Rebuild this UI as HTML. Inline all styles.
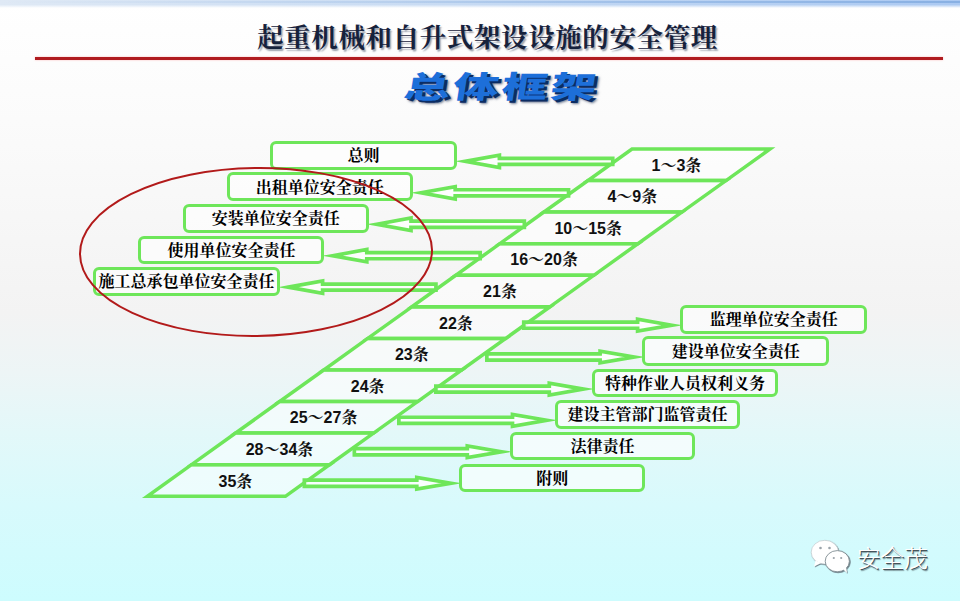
<!DOCTYPE html>
<html lang="zh-CN"><head><meta charset="utf-8"><title>总体框架</title>
<style>
html,body{margin:0;padding:0}
body{width:960px;height:601px;overflow:hidden;position:relative;
background:linear-gradient(to bottom,#ffffff 0%,#fbfbfb 20%,#f3f3f3 52%,#edf5f6 62%,#e3f8f9 72%,#d8fafc 84%,#cdfcfe 100%);
font-family:"Liberation Sans","Noto Sans CJK SC",sans-serif}
.topbar{position:absolute;left:0;top:0;width:960px;height:8px;background:linear-gradient(to bottom,rgba(255,255,255,0) 0,rgba(255,255,255,0) 58%,#fff 100%),linear-gradient(to right,#dfe9f5,#c6daf3 50%,#abc9f2 100%);}
.topbar2{position:absolute;left:0;top:1px;width:960px;height:1.5px;background:linear-gradient(to right,rgba(130,170,220,0) 0,rgba(130,170,220,.25) 40%,rgba(125,168,222,.75) 100%);}
.title{position:absolute;left:0;top:15.5px;width:960px;text-align:center;font-family:"Liberation Serif","Noto Serif CJK SC",serif;font-weight:700;font-size:26.5px;line-height:44px;color:#16223c;text-shadow:1.5px 1.5px 1.5px rgba(90,100,120,.6);letter-spacing:0.6px;white-space:nowrap;text-indent:15px}

.rule{position:absolute;left:35px;top:56.6px;width:908px;height:3px;background:#b01c20;box-shadow:0 0 2px rgba(255,150,150,.7)}
.sub{position:absolute;left:402px;top:63px;width:200px;height:48px;text-align:center;white-space:nowrap;font-family:"Liberation Sans","Noto Sans CJK SC",sans-serif;font-weight:900;font-size:30.5px;letter-spacing:2px;line-height:48px;color:#1d6fd9;text-shadow:2px 2px 0 #0b2c63,3px 3px 2px rgba(10,30,70,.6);transform:scaleX(1.5) skewX(-6deg);transform-origin:50% 50%}
svg{position:absolute;left:0;top:0}
.bx{position:absolute;box-sizing:border-box;border:3.6px solid #6ee65a;border-radius:6px;background:rgba(255,255,255,.6);display:flex;align-items:center;justify-content:center;white-space:nowrap;font-family:"Liberation Serif","Noto Serif CJK SC",serif;font-weight:700;font-size:16px;color:#000;line-height:20px}
.bx span{display:block;position:relative;top:1px}
.lb{position:absolute;width:120px;height:24px;line-height:24px;text-align:center;font-family:"Liberation Sans","Noto Serif CJK SC",sans-serif;font-weight:700;font-size:16px;color:#111;white-space:nowrap}
.wm{position:absolute;left:857px;top:541.7px;font-family:"Liberation Sans","Noto Sans CJK SC",sans-serif;font-weight:300;font-size:23.6px;line-height:34px;color:#fff;text-shadow:1px 1px 0 rgba(62,74,80,.95),1.6px 1.6px 1px rgba(62,74,80,.55),-0.5px -0.5px 0 rgba(255,255,255,.9);white-space:nowrap}
</style></head><body>
<div class="topbar"></div><div class="topbar2"></div>
<div class="title">起重机械和自升式架设设施的安全管理</div>
<div class="rule"></div>
<div class="sub">总体框架</div>
<svg width="960" height="601" viewBox="0 0 960 601">
<polygon points="632.0,149.0 770.0,149.0 726.0,180.6 588.0,180.6" fill="rgba(255,255,255,0.5)" stroke="#6ee65a" stroke-width="3.5" stroke-linejoin="miter" stroke-miterlimit="10"/>
<polygon points="588.0,180.6 726.0,180.6 681.9,212.1 543.9,212.1" fill="rgba(255,255,255,0.5)" stroke="#6ee65a" stroke-width="3.5" stroke-linejoin="miter" stroke-miterlimit="10"/>
<polygon points="543.9,212.1 681.9,212.1 637.9,243.7 499.8,243.7" fill="rgba(255,255,255,0.5)" stroke="#6ee65a" stroke-width="3.5" stroke-linejoin="miter" stroke-miterlimit="10"/>
<polygon points="499.9,243.7 637.9,243.7 593.8,275.3 455.8,275.3" fill="rgba(255,255,255,0.5)" stroke="#6ee65a" stroke-width="3.5" stroke-linejoin="miter" stroke-miterlimit="10"/>
<polygon points="455.8,275.3 593.8,275.3 549.8,306.8 411.8,306.8" fill="rgba(255,255,255,0.5)" stroke="#6ee65a" stroke-width="3.5" stroke-linejoin="miter" stroke-miterlimit="10"/>
<polygon points="411.8,306.9 549.8,306.9 505.7,338.4 367.7,338.4" fill="rgba(255,255,255,0.5)" stroke="#6ee65a" stroke-width="3.5" stroke-linejoin="miter" stroke-miterlimit="10"/>
<polygon points="367.7,338.4 505.7,338.4 461.7,370.0 323.7,370.0" fill="rgba(255,255,255,0.5)" stroke="#6ee65a" stroke-width="3.5" stroke-linejoin="miter" stroke-miterlimit="10"/>
<polygon points="323.7,370.0 461.7,370.0 417.6,401.6 279.6,401.6" fill="rgba(255,255,255,0.5)" stroke="#6ee65a" stroke-width="3.5" stroke-linejoin="miter" stroke-miterlimit="10"/>
<polygon points="279.6,401.6 417.6,401.6 373.6,433.1 235.6,433.1" fill="rgba(255,255,255,0.5)" stroke="#6ee65a" stroke-width="3.5" stroke-linejoin="miter" stroke-miterlimit="10"/>
<polygon points="235.6,433.1 373.6,433.1 329.5,464.7 191.5,464.7" fill="rgba(255,255,255,0.5)" stroke="#6ee65a" stroke-width="3.5" stroke-linejoin="miter" stroke-miterlimit="10"/>
<polygon points="191.5,464.7 329.5,464.7 285.4,496.3 147.4,496.3" fill="rgba(255,255,255,0.5)" stroke="#6ee65a" stroke-width="3.5" stroke-linejoin="miter" stroke-miterlimit="10"/>
<path d="M465.10,161.35 L499.40,155.15 L499.40,158.30 L612.75,158.30 L612.75,164.40 L499.40,164.40 L499.40,167.55 Z" fill="rgba(255,255,255,0.8)" stroke="#6ee65a" stroke-width="3.7" stroke-linejoin="miter" stroke-miterlimit="12"/>
<path d="M420.90,192.80 L455.20,186.60 L455.20,189.75 L568.55,189.75 L568.55,195.85 L455.20,195.85 L455.20,199.00 Z" fill="rgba(255,255,255,0.8)" stroke="#6ee65a" stroke-width="3.7" stroke-linejoin="miter" stroke-miterlimit="12"/>
<path d="M376.70,224.25 L411.00,218.05 L411.00,221.20 L524.35,221.20 L524.35,227.30 L411.00,227.30 L411.00,230.45 Z" fill="rgba(255,255,255,0.8)" stroke="#6ee65a" stroke-width="3.7" stroke-linejoin="miter" stroke-miterlimit="12"/>
<path d="M332.50,255.70 L366.80,249.50 L366.80,252.65 L480.15,252.65 L480.15,258.75 L366.80,258.75 L366.80,261.90 Z" fill="rgba(255,255,255,0.8)" stroke="#6ee65a" stroke-width="3.7" stroke-linejoin="miter" stroke-miterlimit="12"/>
<path d="M288.30,287.15 L322.60,280.95 L322.60,284.10 L435.95,284.10 L435.95,290.20 L322.60,290.20 L322.60,293.35 Z" fill="rgba(255,255,255,0.8)" stroke="#6ee65a" stroke-width="3.7" stroke-linejoin="miter" stroke-miterlimit="12"/>
<path d="M671.89,325.20 L637.59,319.30 L637.59,322.15 L523.75,322.15 L523.75,328.25 L637.59,328.25 L637.59,331.10 Z" fill="rgba(255,255,255,0.8)" stroke="#6ee65a" stroke-width="3.7" stroke-linejoin="miter" stroke-miterlimit="12"/>
<path d="M634.39,357.00 L600.09,351.10 L600.09,353.95 L486.85,353.95 L486.85,360.05 L600.09,360.05 L600.09,362.90 Z" fill="rgba(255,255,255,0.8)" stroke="#6ee65a" stroke-width="3.7" stroke-linejoin="miter" stroke-miterlimit="12"/>
<path d="M583.59,389.10 L549.29,383.20 L549.29,386.05 L435.85,386.05 L435.85,392.15 L549.29,392.15 L549.29,395.00 Z" fill="rgba(255,255,255,0.8)" stroke="#6ee65a" stroke-width="3.7" stroke-linejoin="miter" stroke-miterlimit="12"/>
<path d="M546.79,420.30 L512.49,414.40 L512.49,417.25 L398.85,417.25 L398.85,423.35 L512.49,423.35 L512.49,426.20 Z" fill="rgba(255,255,255,0.8)" stroke="#6ee65a" stroke-width="3.7" stroke-linejoin="miter" stroke-miterlimit="12"/>
<path d="M501.59,451.75 L467.29,445.85 L467.29,448.70 L354.35,448.70 L354.35,454.80 L467.29,454.80 L467.29,457.65 Z" fill="rgba(255,255,255,0.8)" stroke="#6ee65a" stroke-width="3.7" stroke-linejoin="miter" stroke-miterlimit="12"/>
<path d="M451.09,483.25 L416.79,477.35 L416.79,480.20 L304.35,480.20 L304.35,486.30 L416.79,486.30 L416.79,489.15 Z" fill="rgba(255,255,255,0.8)" stroke="#6ee65a" stroke-width="3.7" stroke-linejoin="miter" stroke-miterlimit="12"/>
</svg>
<div class="bx" style="left:270px;top:140.8px;width:187px;height:28.899999999999977px"><span>总则</span></div>
<div class="bx" style="left:226.5px;top:172.3px;width:186.3px;height:28.899999999999977px"><span>出租单位安全责任</span></div>
<div class="bx" style="left:182.6px;top:203.9px;width:186.20000000000002px;height:28.799999999999983px"><span>安装单位安全责任</span></div>
<div class="bx" style="left:138.4px;top:235.5px;width:186.1px;height:28.69999999999999px"><span>使用单位安全责任</span></div>
<div class="bx" style="left:92.5px;top:267px;width:187.8px;height:28.69999999999999px"><span>施工总承包单位安全责任</span></div>
<div class="bx" style="left:680.4px;top:304.8px;width:186.89999999999998px;height:28.80000000000001px"><span>监理单位安全责任</span></div>
<div class="bx" style="left:642.2px;top:336.4px;width:187.0px;height:29.200000000000045px"><span>建设单位安全责任</span></div>
<div class="bx" style="left:592px;top:368.5px;width:185.79999999999995px;height:28.5px"><span>特种作业人员权利义务</span></div>
<div class="bx" style="left:555px;top:400.2px;width:185.20000000000005px;height:28.400000000000034px"><span>建设主管部门监管责任</span></div>
<div class="bx" style="left:510px;top:432px;width:185.20000000000005px;height:28px"><span>法律责任</span></div>
<div class="bx" style="left:459.2px;top:463.5px;width:186.00000000000006px;height:28.30000000000001px"><span>附则</span></div>
<div class="lb" style="left:616.4px;top:153.6px">1～3条</div>
<div class="lb" style="left:572.3px;top:185.2px">4～9条</div>
<div class="lb" style="left:528.2px;top:216.8px">10～15条</div>
<div class="lb" style="left:484.1px;top:248.4px">16～20条</div>
<div class="lb" style="left:440.0px;top:280.0px">21条</div>
<div class="lb" style="left:395.9px;top:311.6px">22条</div>
<div class="lb" style="left:351.8px;top:343.2px">23条</div>
<div class="lb" style="left:307.7px;top:374.8px">24条</div>
<div class="lb" style="left:263.6px;top:406.4px">25～27条</div>
<div class="lb" style="left:219.5px;top:438.0px">28～34条</div>
<div class="lb" style="left:175.4px;top:469.6px">35条</div>
<svg width="960" height="601" viewBox="0 0 960 601" style="pointer-events:none">
<ellipse cx="256" cy="252" rx="176" ry="84" fill="none" stroke="#b21a1a" stroke-width="2" transform="rotate(-0.7 256 252)"/>
<g filter="url(#ws)">
<defs><filter id="ws" x="-10%" y="-10%" width="130%" height="130%"><feDropShadow dx="0.8" dy="0.8" stdDeviation="0.6" flood-color="#46505a" flood-opacity=".8"/></filter></defs>
<ellipse cx="824.8" cy="552.2" rx="13.6" ry="11.9" fill="#fff" stroke="#aab7bc" stroke-width=".5"/>
<path d="M815.5,560.5 L814,566.5 L821,563 Z" fill="#fff"/>
<ellipse cx="837.3" cy="561.2" rx="12.1" ry="10.6" fill="#fff" stroke="#6f7d84" stroke-width=".8"/>
<path d="M843,569 L847,573 L846,567.5 Z" fill="#fff"/>
<circle cx="820.5" cy="548" r="1.3" fill="#9aa3aa"/><circle cx="829.5" cy="548" r="1.3" fill="#9aa3aa"/>
<circle cx="833.8" cy="558" r="1.1" fill="#9aa3aa"/><circle cx="841.2" cy="558" r="1.1" fill="#9aa3aa"/>
</g>
</svg>
<div class="wm">安全茂</div>
</body></html>
